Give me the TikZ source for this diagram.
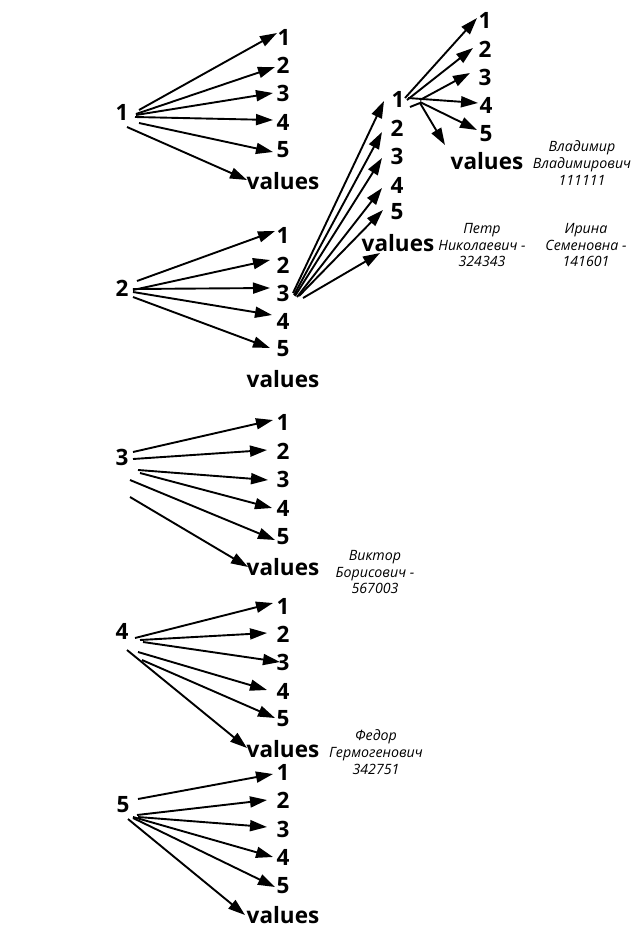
\documentclass[tikz,border=0pt]{standalone}
\usepackage{fontspec}
\setmainfont{Open Sans}
\usetikzlibrary{arrows.meta}
\tikzset{
  num/.style={inner sep=0pt, outer sep=0pt, anchor=center, font=\bfseries\fontsize{22.5}{24}\selectfont},
  note/.style={inner sep=0pt, anchor=center, align=center, font=\itshape\fontsize{14.2}{16.8}\selectfont},
  arr/.style={line width=1.9pt, -{Triangle[length=17pt,width=11pt]}},
  plain/.style={line width=1.9pt}
}
\newcommand\arw[4]{\draw[arr] ([shift={(#2)}]#1.center) -- ([shift={(#4)}]#3.center);}
\begin{document}
\begin{tikzpicture}[x=1pt,y=-1pt]
\useasboundingbox (0,0) rectangle (640,930);
% group 1
\node[num] (g1s) at (122,112) {1};
\node[num] (g1a) at (284,37) {1};
\node[num] (g1b) at (283,65) {2};
\node[num] (g1c) at (283,93) {3};
\node[num] (g1d) at (283,122) {4};
\node[num] (g1e) at (283,150) {5};
\node[num] (g1v) at (283,181) {values};
\arw{g1s}{17,-2}{g1a}{-7,-4}
\arw{g1s}{14,2}{g1b}{-8,2}
\arw{g1s}{14,3}{g1c}{-10,0}
\arw{g1s}{13,5}{g1d}{-10,-2}
\arw{g1s}{17,11}{g1e}{-10,2}
\arw{g1s}{5,15}{g1v}{-36,-1}
% group 2
\node[num] (g2s) at (122,288) {2};
\node[num] (g2a) at (283,235) {1};
\node[num] (g2b) at (283,265) {2};
\node[num] (g2c) at (283,293) {3};
\node[num] (g2d) at (283,321) {4};
\node[num] (g2e) at (283,349) {5};
\node[num] (g2v) at (283,379) {values};
\arw{g2s}{15,-7}{g2a}{-8,-4}
\arw{g2s}{11,2}{g2b}{-13,-5}
\arw{g2s}{11,1}{g2c}{-13,-5}
\arw{g2s}{11,4}{g2d}{-11,-6}
\arw{g2s}{11,9}{g2e}{-13,-1}
% sub fan from g2c
\node[num] (h1) at (398,99) {1};
\node[num] (h2) at (397,128) {2};
\node[num] (h3) at (397,156) {3};
\node[num] (h4) at (397,185) {4};
\node[num] (h5) at (397,212) {5};
\node[num] (hv) at (398,243) {values};
\arw{g2c}{10,0}{h1}{-14,2}
\arw{g2c}{11,2}{h2}{-15,4}
\arw{g2c}{12,3}{h3}{-15,2}
\arw{g2c}{14,4}{h4}{-15,3}
\arw{g2c}{16,3}{h5}{-14,-2}
\arw{g2c}{20,5}{hv}{-18,10}
% sub-sub fan from h1
\node[num] (k1) at (485,20) {1};
\node[num] (k2) at (485,49) {2};
\node[num] (k3) at (485,77) {3};
\node[num] (k4) at (486,105) {4};
\node[num] (k5) at (486,134) {5};
\node[num] (kv) at (487,161) {values};
\arw{h1}{7,-1}{k1}{-8,-2}
\arw{h1}{9,1}{k2}{-12,-1}
\arw{h1}{22,1}{k3}{-15,-4}
\arw{h1}{10,-1}{k4}{-8,-2}
\arw{h1}{22,3}{k5}{-9,-4}
\arw{h1}{22,4}{kv}{-42,-16}
\draw[plain] ([shift={(12,8)}]h1.center) -- ([shift={(22,4)}]h1.center);
% group 3
\node[num] (g3s) at (122,457) {3};
\node[num] (g3a) at (283,422) {1};
\node[num] (g3b) at (283,451) {2};
\node[num] (g3c) at (283,479) {3};
\node[num] (g3d) at (283,508) {4};
\node[num] (g3e) at (283,537) {5};
\node[num] (g3v) at (283,567) {values};
\arw{g3s}{11,-5}{g3a}{-10,-2}
\arw{g3s}{11,2}{g3b}{-16,-1}
\arw{g3s}{16,13}{g3c}{-15,1}
\arw{g3s}{18,16}{g3d}{-11,0}
\arw{g3s}{8,23}{g3e}{-8,3}
\arw{g3s}{8,40}{g3v}{-35,0}
% group 4
\node[num] (g4s) at (122,631) {4};
\node[num] (g4a) at (283,606) {1};
\node[num] (g4b) at (283,634) {2};
\node[num] (g4c) at (283,662) {3};
\node[num] (g4d) at (283,691) {4};
\node[num] (g4e) at (283,719) {5};
\node[num] (g4v) at (283,749) {values};
\arw{g4s}{13,7}{g4a}{-10,-3}
\arw{g4s}{18,9}{g4b}{-16,-1}
\arw{g4s}{21,11}{g4c}{-3,0}
\arw{g4s}{16,21}{g4d}{-16,-1}
\arw{g4s}{20,29}{g4e}{-8,-1}
\arw{g4s}{5,19}{g4v}{-36,-1}
% group 5
\node[num] (g5s) at (123,805) {5};
\node[num] (g5a) at (283,772) {1};
\node[num] (g5b) at (283,800) {2};
\node[num] (g5c) at (283,829) {3};
\node[num] (g5d) at (283,857) {4};
\node[num] (g5e) at (283,886) {5};
\node[num] (g5v) at (283,915) {values};
\arw{g5s}{15,-6}{g5a}{-10,2}
\arw{g5s}{14,10}{g5b}{-16,0}
\arw{g5s}{15,12}{g5c}{-16,-2}
\arw{g5s}{10,12}{g5d}{-10,0}
\arw{g5s}{10,13}{g5e}{-8,1}
\arw{g5s}{5,14}{g5v}{-38,0}
% notes
\node[note] (n1) at (582,163) {Владимир\\Владимирович\\111111};
\node[note] (n2) at (482,245) {Петр\\Николаевич -\\324343};
\node[note] (n3) at (586,245) {Ирина\\Семеновна -\\141601};
\node[note] (n4) at (375,572) {Виктор\\Борисович -\\567003};
\node[note] (n5) at (376,752) {Федор\\Гермогенович\\342751};
\end{tikzpicture}
\end{document}
